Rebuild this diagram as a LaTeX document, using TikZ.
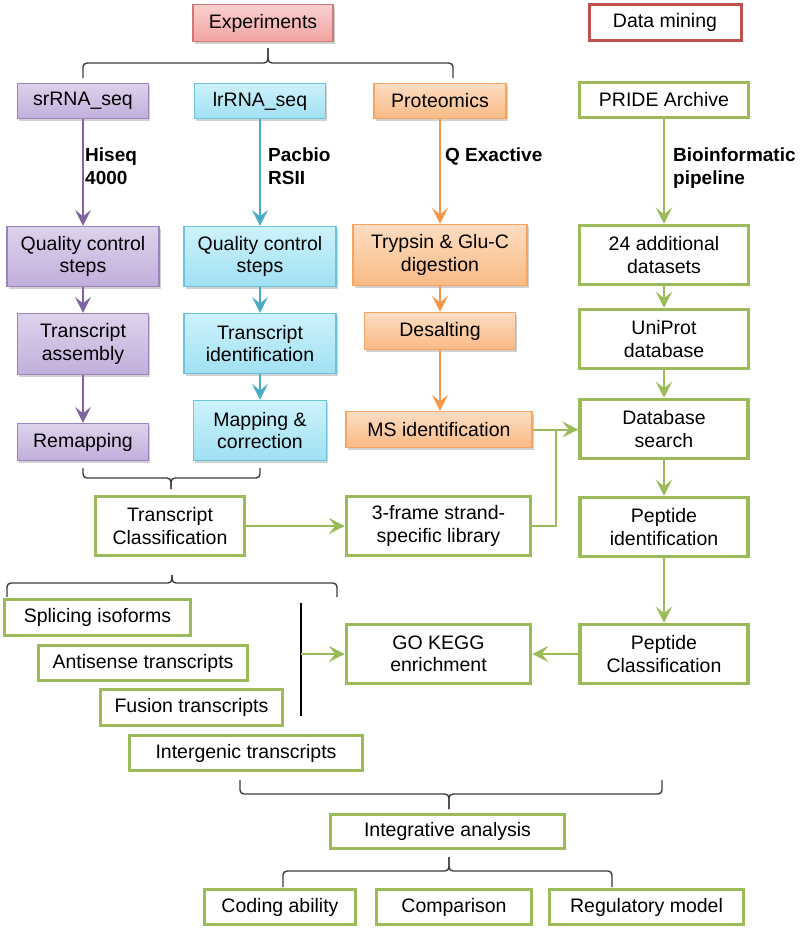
\documentclass[tikz,border=0pt]{standalone}
\usepackage{fontspec}
\setmainfont{Liberation Sans}
\usetikzlibrary{arrows.meta,shadows}
\definecolor{gr}{HTML}{9BBB59}
\definecolor{rd}{HTML}{C0504D}
\definecolor{puE}{HTML}{9A84BD}
\definecolor{puT}{HTML}{DDD2EB}
\definecolor{puB}{HTML}{C2AEDC}
\definecolor{puA}{HTML}{8064A2}
\definecolor{cyE}{HTML}{6CC4DC}
\definecolor{cyT}{HTML}{CDF2FB}
\definecolor{cyB}{HTML}{A0E0F3}
\definecolor{cyA}{HTML}{4BACC6}
\definecolor{orE}{HTML}{F5A462}
\definecolor{orT}{HTML}{FDDDC2}
\definecolor{orB}{HTML}{F9BA85}
\definecolor{orA}{HTML}{F79646}
\definecolor{exE}{HTML}{D27774}
\definecolor{exT}{HTML}{F9D0CF}
\definecolor{exB}{HTML}{F2A4A2}
\definecolor{brc}{HTML}{3A3A3A}
\begin{document}
\begin{tikzpicture}[x=1pt,y=-1pt,
  every node/.style={font=\fontsize{19.5}{22.5}\selectfont, align=center, inner sep=0pt, text=black},
  shad/.style={drop shadow={shadow xshift=1.5pt, shadow yshift=-2pt, opacity=0.3, fill=black!60}},
  gbox/.style={draw=gr, line width=3.5pt, fill=white, rectangle},
  dmbox/.style={draw=rd, line width=3pt, fill=white, rectangle},
  exbox/.style={draw=exE, line width=1.2pt, top color=exT, bottom color=exB, shad, rectangle},
  pbox/.style={draw=puE, line width=1.2pt, top color=puT, bottom color=puB, shad, rectangle},
  cbox/.style={draw=cyE, line width=1.2pt, top color=cyT, bottom color=cyB, shad, rectangle},
  obox/.style={draw=orE, line width=1.2pt, top color=orT, bottom color=orB, shad, rectangle},
  lbl/.style={font=\bfseries\fontsize{19}{23}\selectfont, align=left, anchor=north west},
  tipA/.style={-{Stealth[length=16pt,width=16pt,inset=6.5pt]}},
  parrow/.style={draw=puA, line width=2pt, tipA},
  carrow/.style={draw=cyA, line width=2pt, tipA},
  oarrow/.style={draw=orA, line width=2pt, tipA},
  garrow/.style={draw=gr, line width=2pt, tipA},
  gline/.style={draw=gr, line width=2pt},
  bracepath/.style={draw=brc, line width=1.4pt, rounded corners=4pt},
  vbar/.style={draw=black, line width=1.4pt}
]
\useasboundingbox (0,0) rectangle (800,930);

% top row
\node[exbox, minimum width=140, minimum height=37] (exp) at (263,23) {Experiments};
\node[dmbox, minimum width=152, minimum height=36] (dm) at (665,22.5) {Data mining};

\node[pbox, minimum width=131, minimum height=35] (sr) at (83,101) {srRNA\_seq};
\node[cbox, minimum width=131, minimum height=35] (lr) at (260,101) {lrRNA\_seq};
\node[obox, minimum width=132, minimum height=35] (prot) at (440,101) {Proteomics};
\node[gbox, minimum width=169, minimum height=35] (pride) at (664,100) {PRIDE Archive};

\node[pbox, minimum width=152, minimum height=60] (qc1) at (83,256.5) {Quality control\\steps};
\node[cbox, minimum width=152, minimum height=60] (qc2) at (260,256.5) {Quality control\\steps};
\node[obox, minimum width=174, minimum height=61] (tryp) at (440,255) {Trypsin \& Glu-C\\digestion};
\node[gbox, minimum width=169, minimum height=59] (add) at (664,255) {24 additional\\datasets};

\node[pbox, minimum width=131, minimum height=61] (ta) at (83,344) {Transcript\\assembly};
\node[cbox, minimum width=152, minimum height=60] (ti) at (260,343.5) {Transcript\\identification};
\node[obox, minimum width=151, minimum height=37] (desalt) at (440,331) {Desalting};
\node[gbox, minimum width=169, minimum height=59] (uni) at (664,339) {UniProt\\database};

\node[pbox, minimum width=131, minimum height=37] (remap) at (83,442) {Remapping};
\node[cbox, minimum width=133, minimum height=60] (mapc) at (260,430.5) {Mapping \&\\correction};
\node[obox, minimum width=186, minimum height=36] (ms) at (439,429.5) {MS identification};
\node[gbox, minimum width=168, minimum height=59] (dbs) at (664,429) {Database\\search};

\node[gbox, minimum width=149, minimum height=59] (tc) at (170,526) {Transcript\\Classification};
\node[gbox, minimum width=184, minimum height=59] (f3) at (438.5,526) {3-frame strand-\\specific library};
\node[gbox, minimum width=168, minimum height=59] (pid) at (664,527) {Peptide\\identification};

\node[gbox, minimum width=186, minimum height=36] (spl) at (97.5,617.5) {Splicing isoforms};
\node[gbox, minimum width=209, minimum height=35] (anti) at (143,663) {Antisense transcripts};
\node[gbox, minimum width=182, minimum height=36] (fus) at (191.5,707.5) {Fusion transcripts};
\node[gbox, minimum width=233, minimum height=35] (inter) at (246,753) {Intergenic transcripts};
\node[gbox, minimum width=184, minimum height=59] (go) at (438.5,654) {GO KEGG\\enrichment};
\node[gbox, minimum width=168, minimum height=59] (pcl) at (664,654) {Peptide\\Classification};

\node[gbox, minimum width=234, minimum height=34] (integ) at (447.5,831.5) {Integrative analysis};
\node[gbox, minimum width=151, minimum height=35] (cod) at (280,907) {Coding ability};
\node[gbox, minimum width=155, minimum height=35] (cmp) at (454,907) {Comparison};
\node[gbox, minimum width=194, minimum height=35] (reg) at (646.5,907) {Regulatory model};

% labels
\node[lbl] (l1) at (85,148) {Hiseq\\4000};
\node[lbl] (l2) at (268,148) {Pacbio\\RSII};
\node[lbl] (l3) at (445,148) {Q Exactive};
\node[lbl] (l4) at (673,148) {Bioinformatic\\pipeline};

% vertical arrows
\draw[parrow] (sr.south) -- (sr.south |- qc1.north);
\draw[parrow] (qc1.south) -- (qc1.south |- ta.north);
\draw[parrow] (ta.south) -- (ta.south |- remap.north);
\draw[carrow] (lr.south) -- (lr.south |- qc2.north);
\draw[carrow] (qc2.south) -- (qc2.south |- ti.north);
\draw[carrow] (ti.south) -- (ti.south |- mapc.north);
\draw[oarrow] (prot.south) -- (prot.south |- tryp.north);
\draw[oarrow] (tryp.south) -- (tryp.south |- desalt.north);
\draw[oarrow] (desalt.south) -- (desalt.south |- ms.north);
\draw[garrow] (pride.south) -- (pride.south |- add.north);
\draw[garrow] (add.south) -- (add.south |- uni.north);
\draw[garrow] (uni.south) -- (uni.south |- dbs.north);
\draw[garrow] (dbs.south) -- (dbs.south |- pid.north);
\draw[garrow] (pid.south) -- (pid.south |- pcl.north);

% horizontal connectors
\draw[garrow] (ms.east) -- (ms.east -| dbs.west);
\coordinate (jn) at (556,429.5);
\draw[gline] (f3.east) -| (jn);
\draw[garrow] (tc.east) -- (f3.west);
\draw[garrow] (pcl.west) -- (go.east);
\coordinate (vtop) at (301,603);
\coordinate (vbot) at (301,716);
\draw[vbar] (vtop) -- (vbot);
\coordinate (vmid) at (301,654);
\draw[garrow] (vmid) -- (go.west);

% braces
\coordinate (b1l) at (83,78); \coordinate (b1r) at (453,78); \coordinate (b1t) at (268,48);
\draw[bracepath] (b1l) -- (83,63) -- (268,63) -- (b1t);
\draw[bracepath] (b1r) -- (453,63) -- (268,63) -- (b1t);

\coordinate (b2l) at (83,468); \coordinate (b2r) at (260,468); \coordinate (b2t) at (171,489);
\draw[bracepath] (b2l) -- (83,478) -- (171,478) -- (b2t);
\draw[bracepath] (b2r) -- (260,478) -- (171,478) -- (b2t);

\coordinate (b3l) at (7,597); \coordinate (b3r) at (337,597); \coordinate (b3t) at (172,575);
\draw[bracepath] (b3l) -- (7,583) -- (172,583) -- (b3t);
\draw[bracepath] (b3r) -- (337,583) -- (172,583) -- (b3t);

\coordinate (b4l) at (240,780); \coordinate (b4r) at (662,780); \coordinate (b4t) at (449,809);
\draw[bracepath] (b4l) -- (240,794) -- (449,794) -- (b4t);
\draw[bracepath] (b4r) -- (662,794) -- (449,794) -- (b4t);

\coordinate (b5l) at (283,887); \coordinate (b5r) at (612,887); \coordinate (b5t) at (449,857);
\draw[bracepath] (b5l) -- (283,871) -- (449,871) -- (b5t);
\draw[bracepath] (b5r) -- (612,871) -- (449,871) -- (b5t);
\end{tikzpicture}
\end{document}
